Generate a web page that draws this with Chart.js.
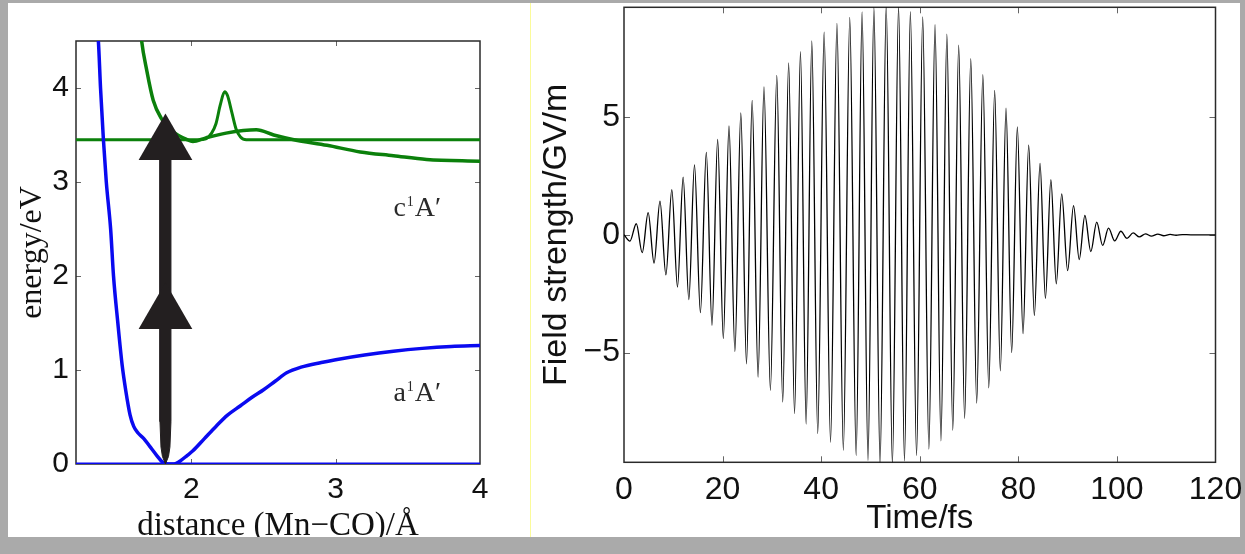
<!DOCTYPE html>
<html>
<head>
<meta charset="utf-8">
<script src="https://cdn.jsdelivr.net/npm/chart.js@4.4.0/dist/chart.umd.min.js"></script>
<style>
    html, body { margin: 0; padding: 0; }
    body { width: 1245px; height: 554px; background: #aaaaaa; position: relative; overflow: hidden; }
    #sheet { position: absolute; left: 8px; top: 3px; width: 1232px; height: 534px; background: #ffffff; }
    #divider { position: absolute; left: 530px; top: 3px; width: 1px; height: 534px; background: #fbfb9a; }
    #energyChart { position: absolute; left: 0; top: 0; }
    #fieldChart { position: absolute; left: 531px; top: 0; }
    #bottomBar { position: absolute; left: 0; top: 537px; width: 1245px; height: 17px; background: #aaaaaa; }
</style>
</head>
<body>
<div id="sheet"></div>
<div id="divider"></div>
<canvas id="energyChart" width="530" height="554"></canvas>
<canvas id="fieldChart" width="714" height="554"></canvas>
<div id="bottomBar"></div>

<script>
// ---- left panel: potential curves, distance in Angstrom, energy in eV ----
const groundR = [1.33, 1.355, 1.37, 1.39, 1.41, 1.44, 1.46, 1.49, 1.52, 1.545, 1.575, 1.60, 1.63, 1.67, 1.71, 1.76, 1.80, 1.84, 1.88, 1.92, 1.97, 2.01, 2.09, 2.17, 2.25, 2.34, 2.42, 2.50, 2.58, 2.66, 2.76, 2.90, 3.00, 3.20, 3.40, 3.60, 3.80, 4.00];
const groundE = [4.80, 4.50, 4.00, 3.45, 3.00, 2.50, 2.00, 1.50, 1.05, 0.78, 0.52, 0.40, 0.33, 0.27, 0.19, 0.09, 0.02, 0.00, 0.00, 0.03, 0.09, 0.14, 0.27, 0.40, 0.52, 0.62, 0.71, 0.79, 0.88, 0.97, 1.03, 1.08, 1.11, 1.16, 1.20, 1.23, 1.25, 1.26];
const groundBaseR = [1.2, 4.0];
const groundBaseE = [0, 0];

const excitedR = [1.64, 1.655, 1.69, 1.735, 1.79, 1.87, 1.97, 2.01, 2.10, 2.24, 2.45, 2.57, 2.71, 2.94, 3.17, 3.40, 3.63, 4.00];
const excitedE = [4.75, 4.50, 4.19, 3.87, 3.68, 3.54, 3.45, 3.43, 3.47, 3.52, 3.555, 3.50, 3.45, 3.39, 3.32, 3.28, 3.24, 3.22];

// wave packet on the excited state, sitting on its energy level
const packetR = [1.2, 2.05, 2.10, 2.14, 2.17, 2.20, 2.23, 2.25, 2.28, 2.31, 2.34, 2.38, 4.0];
const packetE = [3.45, 3.45, 3.46, 3.52, 3.62, 3.82, 3.96, 3.92, 3.74, 3.56, 3.48, 3.45, 3.45];

// two-photon excitation arrow
const arrowHeadR = [1.82, 1.82];
const arrowHeadE = [3.40, 1.60];
const shaftR = [1.782, 1.782, 1.789, 1.799, 1.82, 1.841, 1.851, 1.858, 1.858];
const shaftE = [3.30, 0.45, 0.18, 0.08, 0.0, 0.08, 0.18, 0.45, 3.30];

const stateLetters = ['c', 'a'];
const stateLabelR = [3.40, 3.40];
const stateLabelE = [2.64, 0.67];

const distanceTicks = [2, 3, 4];
const energyTicks = [0, 1, 2, 3, 4];

// ---- right panel: laser pulse, time in fs, field in GV/m (extrema) ----
const fieldTime = [0, 1.2, 2.5, 3.7, 4.9, 6.1, 7.3, 8.5, 9.7, 10.85, 12.0, 13.15, 14.3, 15.5, 16.7, 17.85,
    19.0, 20.15, 21.3, 22.5, 23.7, 24.85, 26.0, 27.2, 28.4, 29.7, 31.0, 32.2, 33.4, 34.6, 35.8, 36.95,
    38.1, 39.3, 40.6, 41.9, 43.2, 44.5, 45.8, 47.1, 48.3, 49.5, 50.7, 51.95, 53.2, 54.45, 55.7, 56.9,
    58.1, 59.35, 60.6, 61.85, 63.1, 64.3, 65.5, 66.7, 67.9, 69.1, 70.35, 71.55, 72.8, 74.0, 75.2, 76.35,
    77.5, 78.65, 79.8, 80.95, 82.1, 83.25, 84.4, 85.5, 86.6, 87.7, 88.8, 90.0, 91.2, 92.35, 93.5, 94.7,
    95.9, 97.1, 98.3, 99.55, 100.8, 102.05, 103.3, 104.55, 105.8, 107.0, 108.3, 109.5, 110.8, 112.0, 113.3, 115, 120];
const fieldValue = [0, -0.27, 0.47, -0.76, 0.94, -1.20, 1.43, -1.70, 1.92, -2.22, 2.45, -2.75, 2.97, -3.30, 3.50, -3.84,
    4.05, -4.40, 4.62, -4.95, 5.18, -5.48, 5.71, -6.04, 6.28, -6.60, 6.77, -7.10, 7.30, -7.59, 7.78, -8.04,
    8.23, -8.44, 8.60, -8.81, 8.98, -9.15, 9.23, -9.38, 9.46, -9.59, 9.65, -9.75, 9.75, -9.75, 9.70, -9.60,
    9.47, -9.38, 9.25, -9.10, 8.92, -8.75, 8.52, -8.30, 8.05, -7.80, 7.48, -7.15, 6.80, -6.50, 6.13, -5.78,
    5.38, -5.00, 4.58, -4.20, 3.81, -3.42, 3.03, -2.70, 2.34, -2.08, 1.74, -1.52, 1.24, -1.05, 0.82, -0.71,
    0.54, -0.45, 0.28, -0.26, 0.15, -0.15, 0.08, -0.09, 0.04, -0.06, 0.03, -0.04, 0.02, -0.02, 0.01, 0, 0];

const timeTicks = [0, 20, 40, 60, 80, 100, 120];
const fieldTicks = [-5, 0, 5];

const INK = '#231f20';
const BLUE = '#0a0af0';
const GREEN = '#0b800b';
const SANS = '"Liberation Sans", Arial, sans-serif';
const SERIF = '"Liberation Serif", "Times New Roman", serif';

function toPoints(xs, ys) {
    return xs.map((x, i) => ({ x: x, y: ys[i] }));
}

function fixedTicks(values) {
    return scale => { scale.ticks = values.map(v => ({ value: v })); };
}

// fixed axis thickness, and no extra room asked for the end labels
function fixedSize(size) {
    return scale => {
        if (scale.isHorizontal()) {
            scale.height = size;
            scale.paddingLeft = 0;
            scale.paddingRight = 0;
        } else {
            scale.width = size;
            scale.paddingTop = 0;
            scale.paddingBottom = 0;
        }
    };
}

// Matlab style box with inward ticks on all four sides
const framePlugin = {
    id: 'frame',
    beforeDatasetsDraw(chart, args, opts) {
        const { ctx, chartArea: a, scales } = chart;
        const len = opts.tickLength;
        ctx.save();
        ctx.strokeStyle = '#666';
        ctx.lineWidth = 1;
        ctx.beginPath();
        scales.x.ticks.forEach(t => {
            const px = Math.round(scales.x.getPixelForValue(t.value)) + 0.5;
            if (px <= a.left + 2 || px >= a.right - 2) return;
            ctx.moveTo(px, a.bottom); ctx.lineTo(px, a.bottom - len);
            ctx.moveTo(px, a.top); ctx.lineTo(px, a.top + len);
        });
        scales.y.ticks.forEach(t => {
            const py = Math.round(scales.y.getPixelForValue(t.value)) + 0.5;
            if (py <= a.top + 2 || py >= a.bottom - 2) return;
            ctx.moveTo(a.left, py); ctx.lineTo(a.left + len, py);
            ctx.moveTo(a.right, py); ctx.lineTo(a.right - len, py);
        });
        ctx.stroke();
        ctx.strokeStyle = '#2a2a2a';
        ctx.lineWidth = 1.5;
        ctx.strokeRect(a.left, a.top, a.right - a.left, a.bottom - a.top);
        ctx.restore();
    }
};

const stateLabelPlugin = {
    id: 'stateLabels',
    afterDatasetsDraw(chart) {
        const { ctx, scales: { x, y } } = chart;
        ctx.save();
        ctx.fillStyle = '#2a2a2a';
        ctx.textBaseline = 'alphabetic';
        ctx.textAlign = 'left';
        stateLetters.forEach((letter, i) => {
            let px = x.getPixelForValue(stateLabelR[i]);
            const py = y.getPixelForValue(stateLabelE[i]);
            ctx.font = '28px ' + SERIF;
            ctx.fillText(letter, px, py);
            px += ctx.measureText(letter).width + 1;
            ctx.font = '14px ' + SERIF;
            ctx.fillText('1', px, py - 10);
            px += ctx.measureText('1').width + 1;
            ctx.font = '28px ' + SERIF;
            ctx.fillText('A\u2032', px, py);
        });
        ctx.restore();
    }
};

function lineSet(xs, ys, color, width) {
    return {
        data: toPoints(xs, ys),
        showLine: true,
        borderColor: color,
        borderWidth: width,
        pointRadius: 0,
        cubicInterpolationMode: 'monotone',
        fill: false
    };
}

Chart.defaults.animation = false;
Chart.defaults.events = [];

new Chart(document.getElementById('energyChart'), {
    type: 'scatter',
    data: {
        datasets: [
            {
                data: toPoints(arrowHeadR, arrowHeadE),
                pointStyle: 'triangle',
                pointRadius: 31,
                pointBackgroundColor: INK,
                pointBorderWidth: 0,
                showLine: false
            },
            {
                data: toPoints(shaftR, shaftE),
                showLine: true,
                fill: 'shape',
                backgroundColor: INK,
                borderColor: INK,
                borderWidth: 1,
                pointRadius: 0,
                tension: 0
            },
            lineSet(groundR, groundE, BLUE, 3.5),
            lineSet(groundBaseR, groundBaseE, BLUE, 3),
            lineSet(excitedR, excitedE, GREEN, 3.5),
            lineSet(packetR, packetE, GREEN, 3)
        ]
    },
    options: {
        responsive: false,
        layout: { padding: { top: 41, right: 50, left: 0, bottom: 0 } },
        plugins: {
            legend: { display: false },
            tooltip: { enabled: false },
            frame: { tickLength: 5 }
        },
        scales: {
            x: {
                type: 'linear',
                min: 1.2,
                max: 4,
                afterBuildTicks: fixedTicks(distanceTicks),
                afterFit: fixedSize(90),
                grid: { display: false, drawTicks: false },
                border: { display: false },
                ticks: { padding: 8, color: '#111', font: { family: SANS, size: 30 } },
                title: {
                    display: true,
                    text: 'distance (Mn\u2212CO)/\u00c5',
                    color: '#111',
                    font: { family: SERIF, size: 33 },
                    padding: { top: 0, bottom: 8 }
                }
            },
            y: {
                type: 'linear',
                min: 0,
                max: 4.5,
                afterBuildTicks: fixedTicks(energyTicks),
                afterFit: fixedSize(76),
                grid: { display: false, drawTicks: false },
                border: { display: false },
                ticks: { padding: 7, color: '#111', font: { family: SANS, size: 30 } },
                title: {
                    display: true,
                    text: 'energy/eV',
                    color: '#111',
                    font: { family: SERIF, size: 32 },
                    padding: { top: 13, bottom: 0 }
                }
            }
        }
    },
    plugins: [framePlugin, stateLabelPlugin]
});

new Chart(document.getElementById('fieldChart'), {
    type: 'scatter',
    data: {
        datasets: [
            lineSet(fieldTime, fieldValue, '#000000', 1.3)
        ]
    },
    options: {
        responsive: false,
        layout: { padding: { top: 7.3, right: 29.5, left: 0, bottom: 0 } },
        plugins: {
            legend: { display: false },
            tooltip: { enabled: false },
            frame: { tickLength: 6 }
        },
        scales: {
            x: {
                type: 'linear',
                min: 0,
                max: 120,
                afterBuildTicks: fixedTicks(timeTicks),
                afterFit: fixedSize(91.7),
                grid: { display: false, drawTicks: false },
                border: { display: false },
                ticks: { padding: 9, color: '#111', font: { family: SANS, size: 32 } },
                title: {
                    display: true,
                    text: 'Time/fs',
                    color: '#111',
                    font: { family: SANS, size: 33 },
                    padding: { top: 0, bottom: 15 }
                }
            },
            y: {
                type: 'linear',
                min: -9.66,
                max: 9.66,
                afterBuildTicks: fixedTicks(fieldTicks),
                afterFit: fixedSize(93),
                grid: { display: false, drawTicks: false },
                border: { display: false },
                ticks: {
                    padding: 4,
                    color: '#111',
                    font: { family: SANS, size: 32 },
                    callback: v => String(v).replace('-', '\u2212')
                },
                title: {
                    display: true,
                    text: 'Field strength/GV/m',
                    color: '#111',
                    font: { family: SANS, size: 34 },
                    padding: { top: 5, bottom: 0 }
                }
            }
        }
    },
    plugins: [framePlugin]
});
</script>
</body>
</html>
